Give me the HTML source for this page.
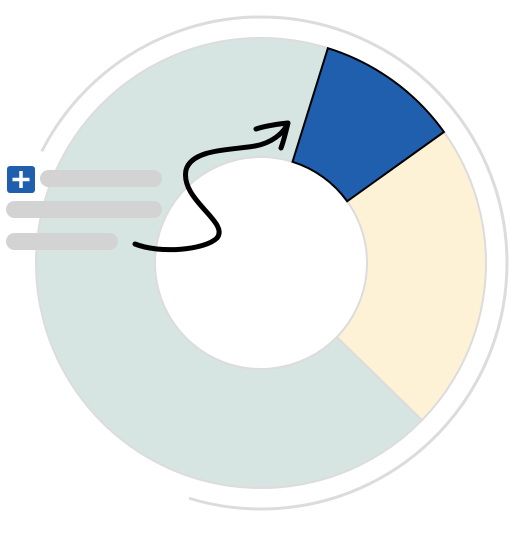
<!DOCTYPE html>
<html><head><meta charset="utf-8"><style>
html,body{margin:0;padding:0;background:#fff;width:518px;height:533px;overflow:hidden}
</style></head><body>
<svg id="chart" width="518" height="533" viewBox="0 0 518 533" xmlns="http://www.w3.org/2000/svg">
<g id="slices"></g>
<path id="outerArc" fill="none" stroke="#dcdcdc" stroke-width="3"/>
<g>
<rect x="7" y="166" width="28" height="27" rx="3" fill="#1f5fad"/>
<path d="M21 171 V188 M12.5 179.5 H29.5" stroke="#fff" stroke-width="3.5"/>
<rect x="40" y="170" width="122" height="17" rx="8.5" fill="#d3d3d3"/>
<rect x="6" y="201" width="156" height="17" rx="8.5" fill="#d3d3d3"/>
<rect x="6" y="233" width="112" height="17" rx="8.5" fill="#d3d3d3"/>
</g>
<path d="M135 244 C160 254 205 250 217 238 C230 222 180 200 186 170 C192 148 235 150 255 146 C272 143 283 133 287 125 M256 129 C268 125 280 124 288 123 C286 131 284 140 281 148" fill="none" stroke="#000" stroke-width="5" stroke-linecap="round" stroke-linejoin="round"/>
</svg>
<script>
const categories=["Selected","Secondary","Remainder"];
const values=[10.3,22.2,67.5];
const colors=["#1f5fad","#fdf1d6","#d6e5e2"];
const cx=261,cy=263,R=225,r=106,startDeg=17.3;
function pt(rad,deg){const a=(deg-90)*Math.PI/180;return [cx+rad*Math.cos(a),cy+rad*Math.sin(a)];}
const total=values.reduce((a,b)=>a+b,0);
const g=document.getElementById('slices');
let ang=startDeg;
const order=[2,1,0];
const paths=[];
values.forEach((v,i)=>{
  const sweep=v/total*360,a0=ang,a1=ang+sweep;ang=a1;
  const large=sweep>180?1:0;
  const [x0,y0]=pt(R,a0),[x1,y1]=pt(R,a1),[x2,y2]=pt(r,a1),[x3,y3]=pt(r,a0);
  const p=document.createElementNS('http://www.w3.org/2000/svg','path');
  p.setAttribute('d',`M${x0} ${y0} A${R} ${R} 0 ${large} 1 ${x1} ${y1} L${x2} ${y2} A${r} ${r} 0 ${large} 0 ${x3} ${y3}Z`);
  p.setAttribute('fill',colors[i]);
  p.setAttribute('stroke',i===0?'#000':'#dcdcdc');
  p.setAttribute('stroke-width',i===0?'2':'2');
  
  
  paths[i]=p;
});
order.forEach(i=>g.appendChild(paths[i]));
const RO=246,[ax,ay]=pt(RO,297),[bx,by]=pt(RO,197);
document.getElementById('outerArc').setAttribute('d',`M${ax} ${ay} A${RO} ${RO} 0 1 1 ${bx} ${by}`);
</script>
</body></html>
